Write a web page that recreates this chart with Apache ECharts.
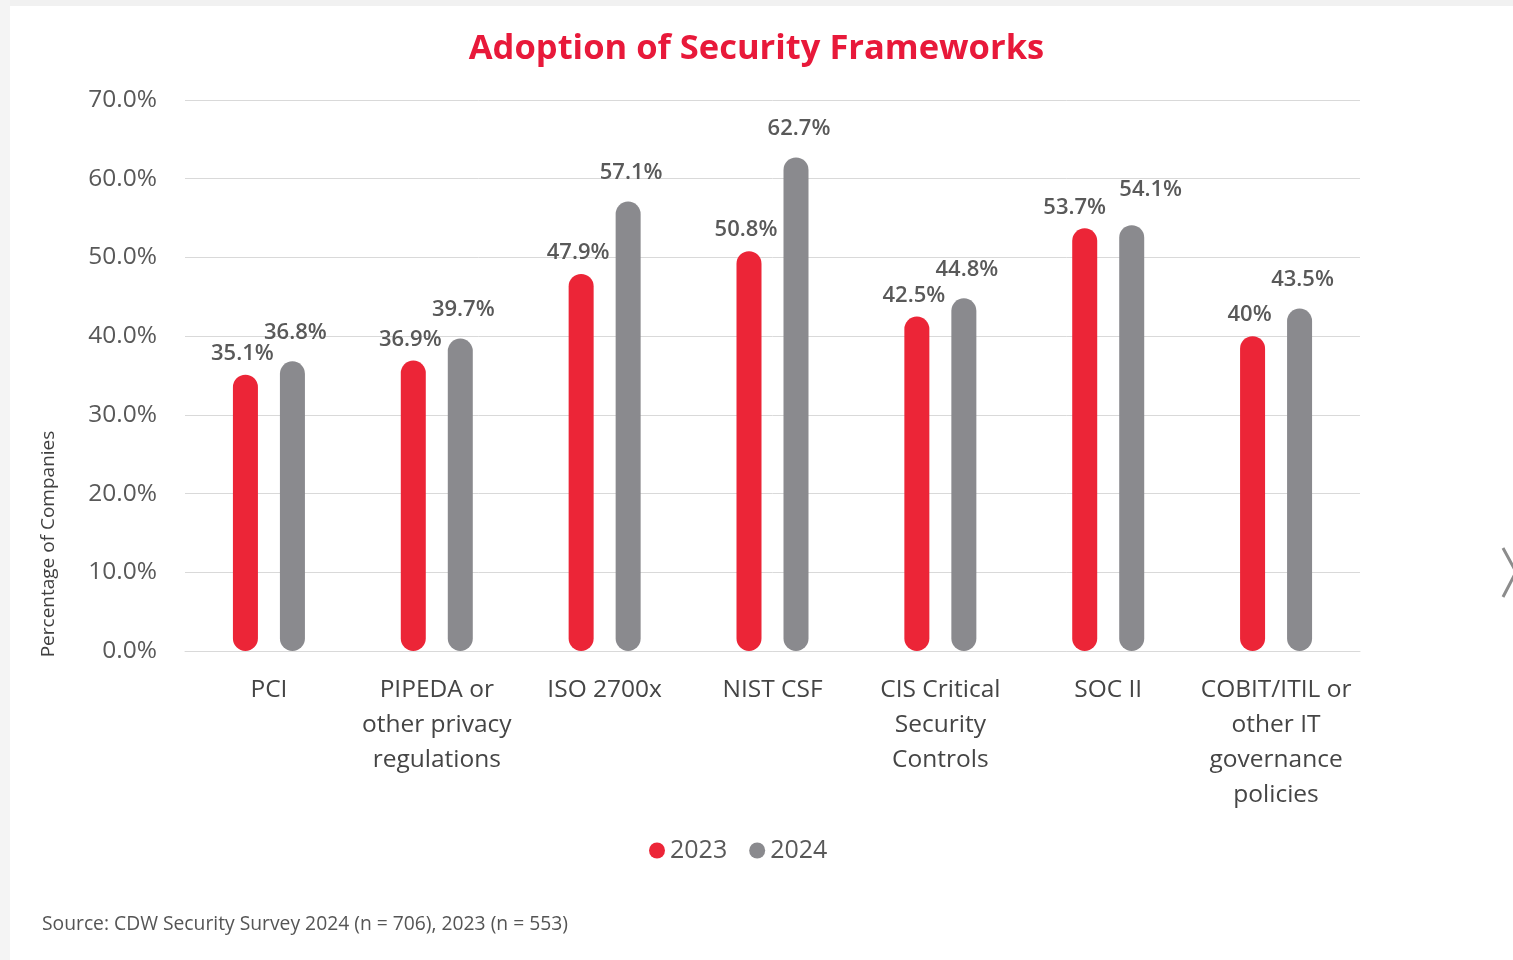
<!DOCTYPE html>
<html>
<head>
<meta charset="utf-8">
<script src="https://cdn.jsdelivr.net/npm/echarts@6/dist/echarts.min.js"></script>
<style>
  html, body { margin: 0; padding: 0; background: #ffffff; }
  #chart { width: 1513px; height: 960px; }
</style>
</head>
<body>
<div id="chart"></div>
<script>
// Framework adoption survey results
const categories = [
  'PCI',
  'PIPEDA or\nother privacy\nregulations',
  'ISO 2700x',
  'NIST CSF',
  'CIS Critical\nSecurity\nControls',
  'SOC II',
  'COBIT/ITIL or\nother IT\ngovernance\npolicies'
];
const values2023 = [35.1, 36.9, 47.9, 50.8, 42.5, 53.7, 40];
const values2024 = [36.8, 39.7, 57.1, 62.7, 44.8, 54.1, 43.5];
const yTicks = [0, 10, 20, 30, 40, 50, 60, 70];

const RED = '#ec2537';
const GREY = '#8a8a8e';
const FONT = '"Open Sans", "Noto Sans", sans-serif';

const chart = echarts.init(document.getElementById('chart'));

// Value labels sit above each bar; where a pair of bars is nearly equal
// the two labels are pushed apart so they don't collide.
function barData(values, other, spread) {
  return values.map((v, i) => {
    const close = Math.abs(v - other[i]) < 1;
    return close
      ? { value: v, label: { offset: spread } }
      : v;
  });
}

function barSeries(name, data, color, label) {
  return {
    name: name,
    type: 'bar',
    data: data,
    barWidth: 25,
    barGap: '88%',
    itemStyle: { color: color, borderRadius: 12.5 },
    label: Object.assign({
      show: true,
      position: 'top',
      formatter: p => p.value + '%',
      fontFamily: FONT,
      fontWeight: 600,
      fontSize: 22,
      color: '#595959'
    }, label)
  };
}

chart.setOption({
  backgroundColor: '#ffffff',
  animation: false,
  title: {
    text: 'Adoption of Security Frameworks',
    left: 'center',
    top: 27,
    textStyle: {
      fontFamily: FONT,
      fontWeight: 'bold',
      fontSize: 34.5,
      color: '#e8193a'
    }
  },
  legend: {
    top: 833,
    left: 644,
    itemWidth: 16,
    itemHeight: 16,
    itemGap: 22,
    icon: 'circle',
    textStyle: { fontFamily: FONT, fontSize: 25, color: '#595959' },
    data: ['2023', '2024']
  },
  grid: { left: 185, right: 153, top: 100, bottom: 309 },
  xAxis: {
    type: 'category',
    data: categories,
    axisTick: { show: false },
    axisLine: { lineStyle: { color: '#d9d9d9', width: 1 } },
    axisLabel: {
      interval: 0,
      margin: 22,
      fontFamily: FONT,
      fontSize: 24.5,
      lineHeight: 35,
      color: '#454545'
    }
  },
  yAxis: {
    type: 'value',
    min: yTicks[0],
    max: yTicks[yTicks.length - 1],
    interval: 10,
    axisLine: { show: false },
    axisTick: { show: false },
    splitLine: { lineStyle: { color: '#d9d9d9', width: 1 } },
    axisLabel: {
      margin: 28,
      fontFamily: FONT,
      fontSize: 24.5,
      color: '#595959',
      formatter: v => v.toFixed(1) + '%'
    }
  },
  series: [
    barSeries('2023', barData(values2023, values2024, [-10, 0]), RED, { distance: 10, offset: [-3, 0] }),
    barSeries('2024', barData(values2024, values2023, [19, -6]), GREY, { distance: 18, offset: [3, 0] })
  ],
  graphic: [
    { type: 'rect', shape: { x: 0, y: 0, width: 1513, height: 6 }, style: { fill: '#f1f1f1' }, silent: true },
    { type: 'rect', shape: { x: 0, y: 0, width: 10, height: 960 }, style: { fill: '#f4f4f4' }, silent: true },
    {
      type: 'text',
      x: 49, y: 544,
      rotation: Math.PI / 2,
      style: {
        text: 'Percentage of Companies',
        fontFamily: FONT,
        fontSize: 19,
        fill: '#404040',
        align: 'center',
        verticalAlign: 'middle'
      }
    },
    {
      type: 'text',
      left: 42, top: 915,
      style: {
        text: 'Source: CDW Security Survey 2024 (n = 706), 2023 (n = 553)',
        fontFamily: FONT,
        fontSize: 19.3,
        fill: '#555555'
      }
    },
    {
      type: 'polyline',
      shape: { points: [[1503, 548], [1516, 572], [1503, 597]] },
      style: { stroke: '#8c8c8c', lineWidth: 3, fill: null },
      silent: true
    }
  ]
});
</script>
</body>
</html>
